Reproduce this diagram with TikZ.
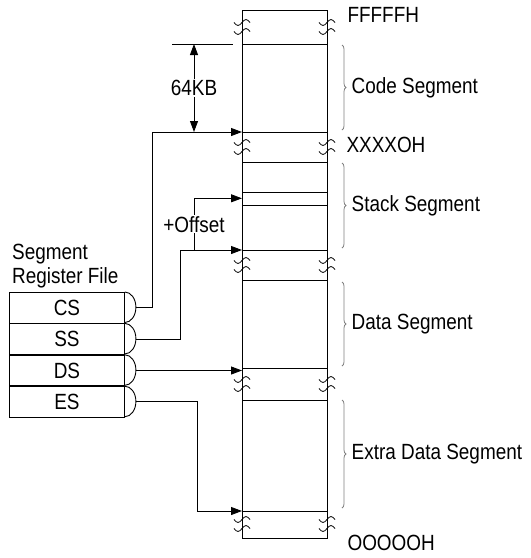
\documentclass[tikz,border=0pt]{standalone}
\usepackage{fontspec}
\setmainfont{Liberation Sans}[FakeStretch=0.86]
\usepackage{tikz}
\usetikzlibrary{positioning}
\usetikzlibrary{arrows.meta}
\usetikzlibrary{decorations.pathreplacing}

\tikzset{
	ptr/.style={-{Triangle[length=11pt,width=8pt]},line width=0.9pt},
	dimline/.style={{Triangle[length=11pt,width=8pt]}-{Triangle[length=11pt,width=8pt]},line width=0.9pt},
	regbox/.style={draw,line width=0.9pt,minimum width=115pt,minimum height=30.5pt,inner sep=0pt},
	segbrace/.style={decorate,decoration={brace,amplitude=4pt},gray,line width=0.8pt},
	seglabel/.style={text=black,right=6pt},
	brk/.pic={
		\draw[line width=0.8pt] (-8,-4.5) sin (-4,-1.5) cos (0,-4.5) sin (4,-7.5) cos (8,-4.5);
		\draw[line width=0.8pt] (-8,4.5) sin (-4,7.5) cos (0,4.5) sin (4,1.5) cos (8,4.5);
	}
}

\begin{document}
\begin{tikzpicture}[x=1pt,y=-1pt,font=\fontsize{22}{24}\selectfont]
	\useasboundingbox (0,0) rectangle (531,558);

	%% Memory Column %%
	\draw[line width=0.9pt] (242,10) rectangle (327,538);
	\foreach \y in {44, 132, 162, 192, 205, 250, 280, 368, 400, 511} \draw[line width=0.9pt] (242,\y) -- (327,\y);
	\foreach \y in {27, 147, 265, 384, 524} {
		\pic at (242,\y) {brk};
		\pic at (327,\y) {brk};
	}
	\coordinate (code-base) at (242,132);
	\coordinate (stack-ptr) at (242,198.3);
	\coordinate (stack-base) at (242,250);
	\coordinate (data-base) at (242,368);
	\coordinate (extra-base) at (242,511);

	%% Addresses %%
	\node[anchor=west] (top-addr) at (344,15) {FFFFFH};
	\node[anchor=west] (code-addr) at (343,145) {XXXXOH};
	\node[anchor=west] (bot-addr) at (344,543) {OOOOOH};

	%% Segment Braces %%
	\draw[segbrace] (342,45) -- (342,130) node[midway,seglabel] (code-seg) {Code Segment};
	\draw[segbrace] (342,163) -- (342,248) node[midway,seglabel] (stack-seg) {Stack Segment};
	\draw[segbrace] (342,282) -- (342,366) node[midway,seglabel] (data-seg) {Data Segment};
	\draw[segbrace] (342,400) -- (342,508) node[midway,seglabel] (extra-seg) {Extra Data Segment};

	%% 64KB %%
	\draw[line width=0.9pt] (172,44) -- (233,44);
	\draw[dimline] (194,44) -- node[fill=white,inner sep=1pt] (size) {64KB} (194,132);

	%% Register File %%
	\node[anchor=south west,align=left,inner sep=0pt] (reg-title) at (12,288) {Segment\\Register File};
	\node[regbox,anchor=north west] (cs) at (9,292) {CS};
	\node[regbox,below=0pt of cs] (ss) {SS};
	\node[regbox,below=0pt of ss] (ds) {DS};
	\node[regbox,below=0pt of ds] (es) {ES};
	\foreach \r in {cs, ss, ds, es} \draw[line width=0.9pt] (\r.north east) arc[start angle=-90,end angle=90,x radius=11,y radius=15.25];

	%% Pointers %%
	\draw[ptr] ([xshift=11pt]cs.east) -- ++(17,0) |- (code-base);
	\draw[ptr] ([xshift=11pt]ss.east) -- ++(45,0) |- (stack-base);
	\coordinate (offset-fork) at (194,250);
	\draw[ptr] (offset-fork) -- node[fill=white,inner sep=1pt] (offset) {+Offset} (offset-fork |- stack-ptr) -- (stack-ptr);
	\draw[ptr] ([xshift=11pt]ds.east) -- (ds.east -| data-base);
	\draw[ptr] ([xshift=11pt]es.east) -- ++(62,0) |- (extra-base);

\end{tikzpicture}
\end{document}
